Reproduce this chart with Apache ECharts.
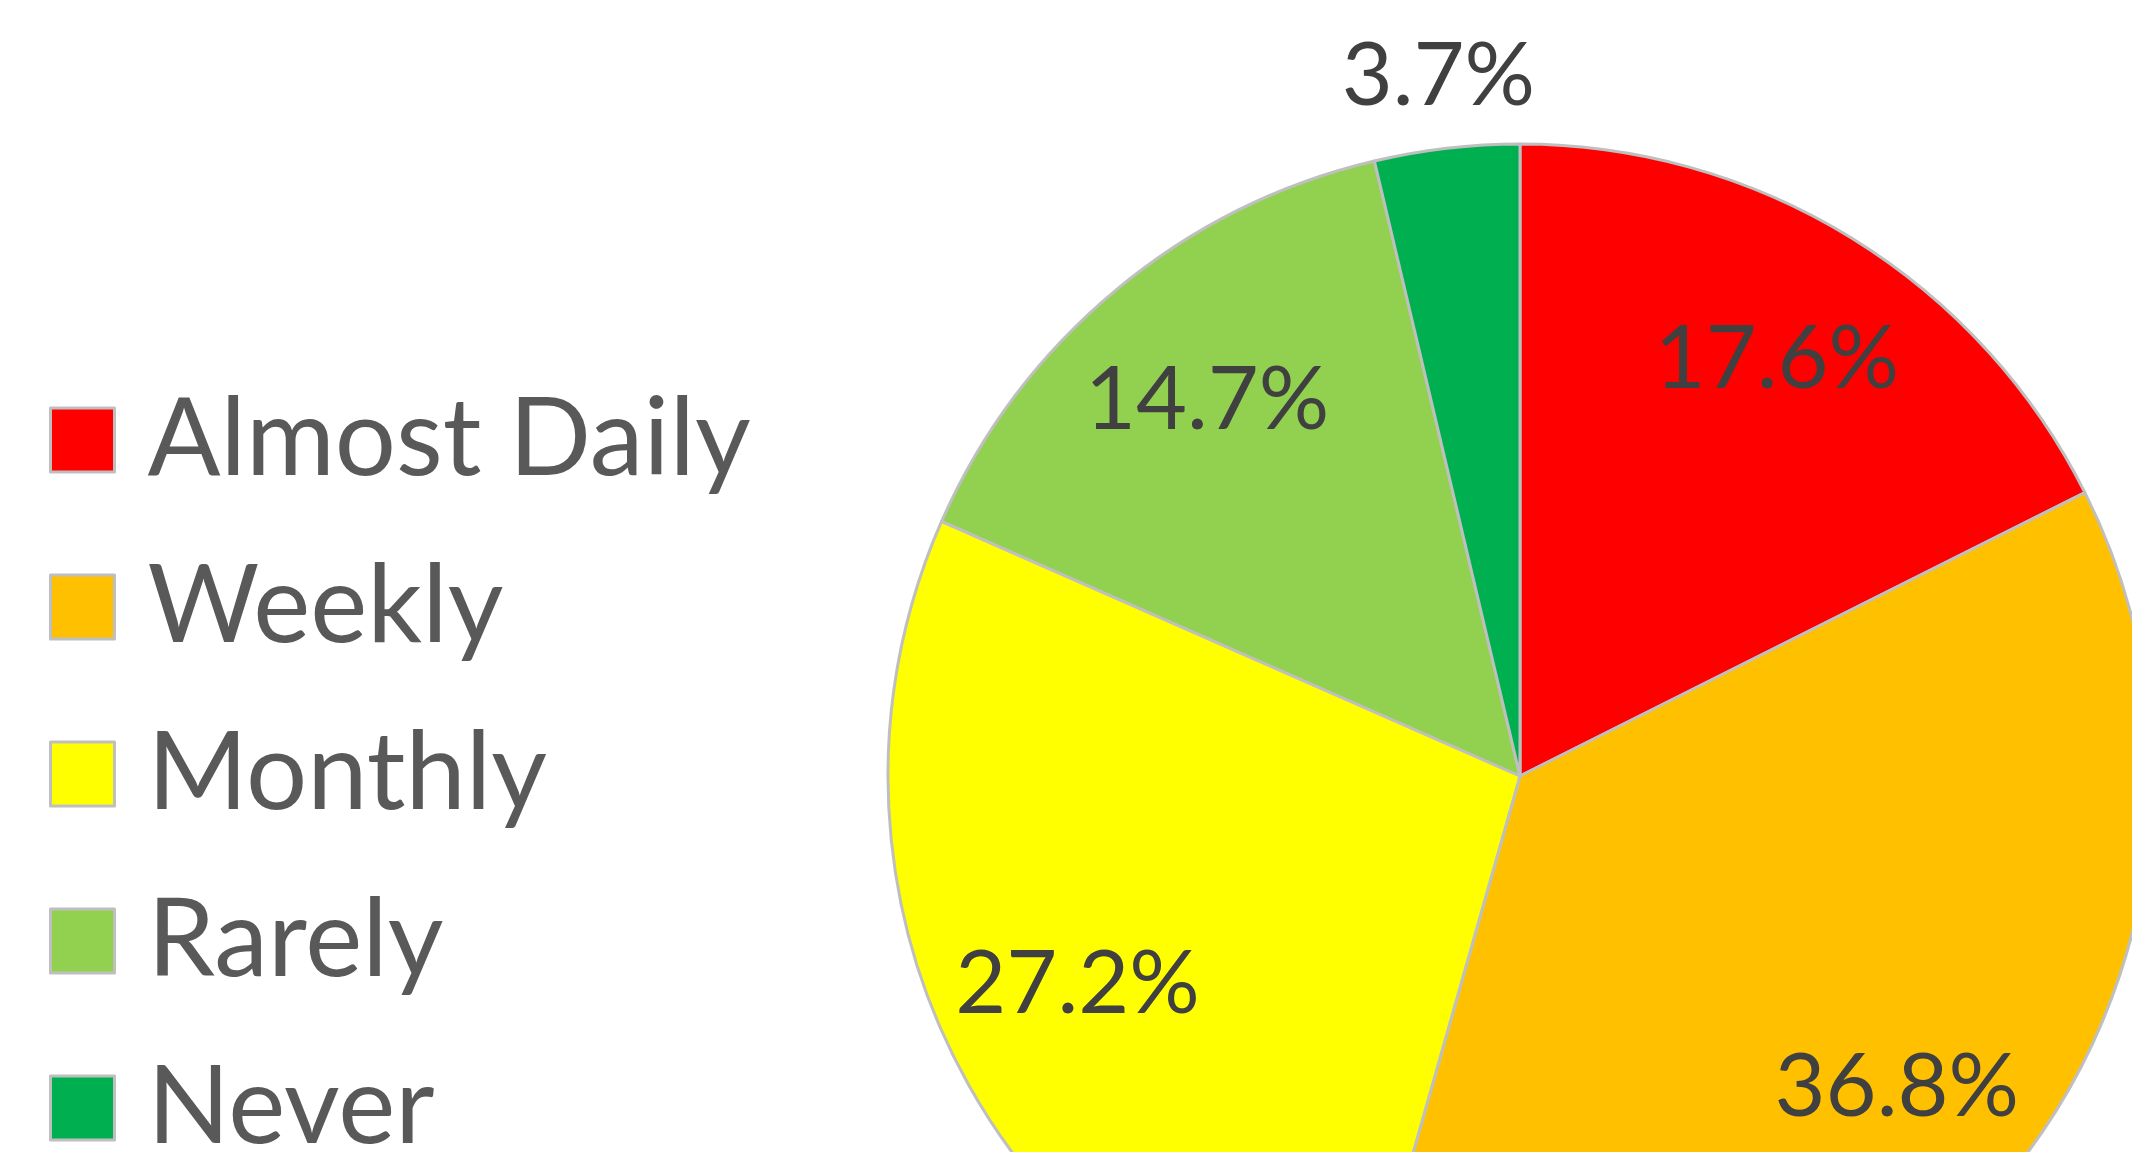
<!DOCTYPE html>
<html>
<head>
<meta charset="utf-8">
<script src="https://cdn.jsdelivr.net/npm/echarts@6/dist/echarts.min.js"></script>
<style>
  html, body { margin: 0; padding: 0; background: #fff; }
  #chart { width: 2132px; height: 1152px; }
</style>
</head>
<body>
<div id="chart"></div>
<script>
// categories and values (percent of answers)
var names = ['Almost Daily', 'Weekly', 'Monthly', 'Rarely', 'Never'];
var values = [17.6, 36.8, 27.2, 14.7, 3.7];
var colors = ['#FF0000', '#FFC000', '#FFFF00', '#92D050', '#00B050'];
// slices whose label sits outside the pie
var outsideLabel = ['Never'];

var chart = echarts.init(document.getElementById('chart'));

var center = [1520, 776];
var R = 632;
var fontFamily = 'Lato, "Noto Sans", sans-serif';

function labelData(showOutside) {
  return names.map(function (n, i) {
    var isOut = outsideLabel.indexOf(n) >= 0;
    return {
      name: n,
      value: values[i],
      label: { show: showOutside ? isOut : !isOut }
    };
  });
}

var labelStyle = {
  position: 'inside',
  rotate: 0,
  color: '#404040',
  fontFamily: fontFamily,
  fontSize: 88,
  formatter: function (p) { return p.value.toFixed(1) + '%'; }
};

var option = {
  backgroundColor: '#fff',
  animation: false,
  legend: {
    orient: 'vertical',
    left: 44,
    top: 375,
    height: 1100,
    data: names,
    icon: 'rect',
    itemWidth: 64,
    itemHeight: 64,
    itemGap: 47,
    itemStyle: { borderColor: '#BFBFBF', borderWidth: 3 },
    textStyle: {
      color: '#595959',
      fontFamily: fontFamily,
      fontSize: 108,
      lineHeight: 120,
      padding: [0, 0, 0, 28]
    }
  },
  series: [
    {
      // the pie itself
      type: 'pie',
      center: center,
      radius: [0, R],
      startAngle: 90,
      clockwise: true,
      silent: true,
      label: { show: false },
      labelLine: { show: false },
      itemStyle: { borderColor: '#BFBFBF', borderWidth: 3 },
      data: names.map(function (n, i) {
        return { name: n, value: values[i], itemStyle: { color: colors[i] } };
      })
    },
    {
      // labels inside the slices
      type: 'pie',
      center: center,
      radius: [340, R],
      startAngle: 90,
      clockwise: true,
      silent: true,
      legendHoverLink: false,
      itemStyle: { color: 'rgba(0,0,0,0)', borderWidth: 0 },
      label: labelStyle,
      labelLine: { show: false },
      data: labelData(false)
    },
    {
      // label of the thin slice, just above the pie
      type: 'pie',
      center: center,
      radius: [R + 18, R + 120],
      startAngle: 90,
      clockwise: true,
      silent: true,
      legendHoverLink: false,
      itemStyle: { color: 'rgba(0,0,0,0)', borderWidth: 0 },
      label: labelStyle,
      labelLine: { show: false },
      data: labelData(true)
    }
  ]
};

chart.setOption(option);
</script>
</body>
</html>
